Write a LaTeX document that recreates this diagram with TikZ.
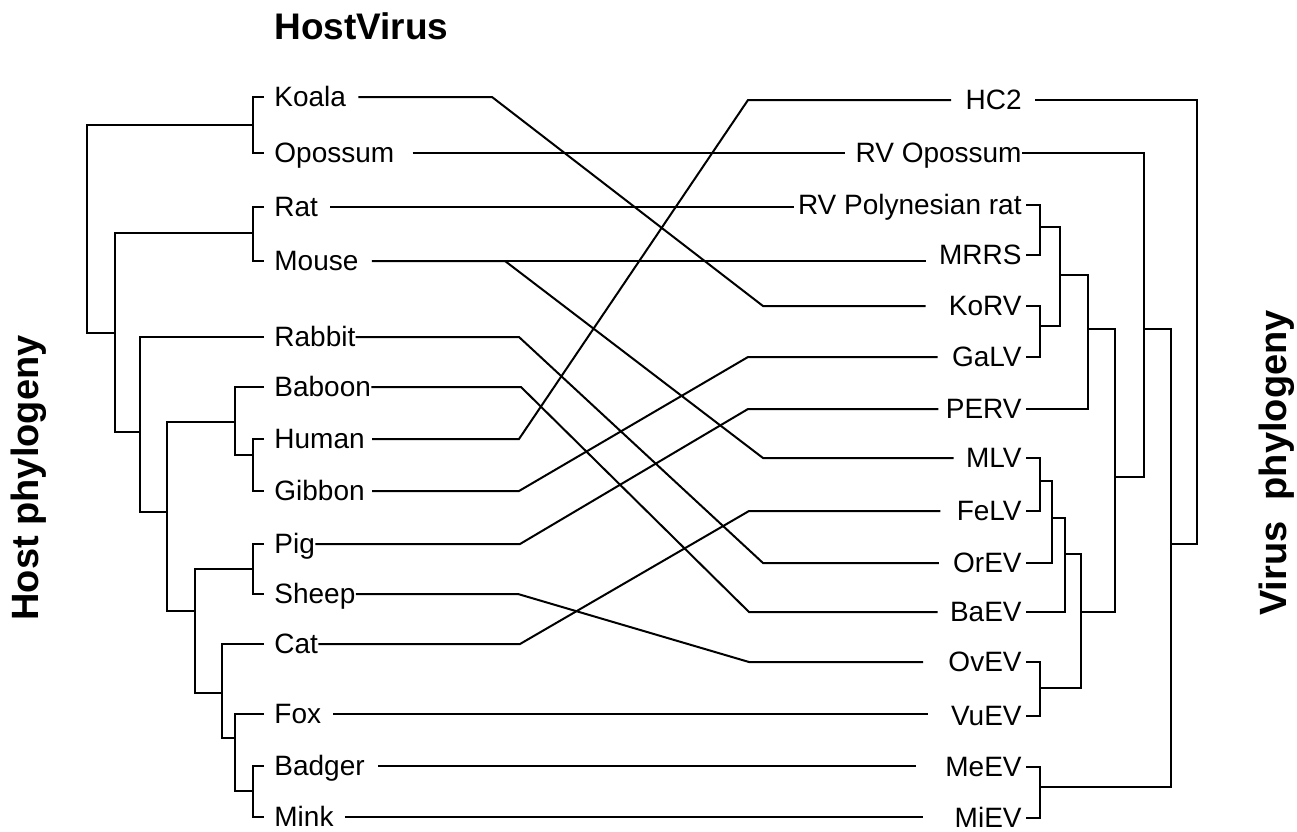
\documentclass[tikz,border=0pt]{standalone}
\usepackage{fontspec}
\setmainfont{Liberation Sans}
\begin{document}
\begin{tikzpicture}[x=0.5pt,y=-0.5pt,
    tree/.style={line width=1pt},
    link/.style={line width=1pt},
    host/.style={anchor=west,inner sep=0pt,text height=10pt,text depth=1pt,font=\fontsize{14}{16}\selectfont},
    virus/.style={host,anchor=east},
    axis title/.style={rotate=90,anchor=base,inner sep=0pt,font=\bfseries\fontsize{19}{22}\selectfont}]
  \useasboundingbox (0,0) rectangle (1297,831);
  \node[anchor=base west,inner sep=0pt,font=\bfseries\fontsize{18.5}{22}\selectfont] (title) at (274,39) {HostVirus};
  \node[axis title] (hostphy) at (39,478) {Host phylogeny};
  \node[axis title] (virphy) at (1286,463) {Virus\ \ phylogeny};
  \foreach \n/\t/\y/\g in {koala/Koala/97/12, opossum/Opossum/153/18, rat/Rat/207/12, mouse/Mouse/261/13,
      rabbit/Rabbit/337/0, baboon/Baboon/387/0, human/Human/439/7, gibbon/Gibbon/491/7, pig/Pig/544/0,
      sheep/Sheep/594/0, cat/Cat/644/0, fox/Fox/714/12, badger/Badger/766/13, mink/Mink/817/11}{
    \node[host] (\n) at (274,\y) {\t};
    \coordinate (\n-l) at ([xshift=-5pt]\n.west);
    \coordinate (\n-r) at ([xshift=\g*0.5pt]\n.east);
  }
  \foreach \n/\t/\y/\g/\r in {hc/HC2/100/14/13, rvo/RV Opossum/153/10/0, rvp/RV Polynesian rat/205/4/4,
      mrrs/MRRS/255/13/4, korv/KoRV/306/23/4, galv/GaLV/357/14/4, perv/PERV/409/7/4, mlv/MLV/458/12/4,
      felv/FeLV/511/16/4, orev/OrEV/563/14/4, baev/BaEV/612/12/4, ovev/OvEV/662/25/4, vuev/VuEV/716/23/4,
      meev/MeEV/767/29/4, miev/MiEV/818/31/4}{
    \node[virus] (\n) at (1022,\y) {\t};
    \coordinate (\n-l) at ([xshift=-\g*0.5pt]\n.west);
    \coordinate (\n-r) at ([xshift=\r*0.5pt]\n.east);
  }
  \foreach \n/\x/\y in {mroot/87/230, m1/253/125, m2/253/233, m4/115/333, m5/140/432, m6/167/512,
      m7/235/422, m8/195/611, m9/253/455, m10/253/569, m11/222/693, m12/235/738, m13/253/791,
      n1/1040/227, n2/1040/326, n3/1060/275, n4/1088/329, n5/1040/481, n6/1052/518, n7/1065/554,
      n8/1040/688, n9/1081/612, n10/1115/477, n11/1144/329, n12/1040/787, n13/1171/544, n14/1197/300}
    \coordinate (\n) at (\x,\y);
  \foreach \a/\p/\b in {koala-l/m1/opossum-l, rat-l/m2/mouse-l, human-l/m9/gibbon-l, pig-l/m10/sheep-l,
      badger-l/m13/mink-l, baboon-l/m7/m9, fox-l/m12/m13, cat-l/m11/m12, m10/m8/m11, m7/m6/m8,
      rabbit-l/m5/m6, m2/m4/m5, m1/mroot/m4,
      rvp-r/n1/mrrs-r, korv-r/n2/galv-r, n1/n3/n2, n3/n4/perv-r, mlv-r/n5/felv-r, n5/n6/orev-r,
      n6/n7/baev-r, ovev-r/n8/vuev-r, n7/n9/n8, n4/n10/n9, rvo-r/n11/n10, meev-r/n12/miev-r,
      n11/n13/n12, hc-r/n14/n13}
    \draw[tree] (\a) -| (\p) |- (\b);
  \foreach \h/\v/\a/\b in {koala/korv/492/763, rabbit/orev/519/763, baboon/baev/521/749, human/hc/519/748,
      gibbon/galv/519/748, pig/perv/520/748, sheep/ovev/518/749, cat/felv/520/749, mouse/mlv/505/763}
    \draw[link] (\h-r) -- (\h-r -| \a,0) -- (\b,0 |- \v-l) -- (\v-l);
  \foreach \h/\v in {opossum/rvo, rat/rvp, mouse/mrrs, fox/vuev, badger/meev, mink/miev}
    \draw[link] (\h-r) -- (\h-r -| \v-l);
\end{tikzpicture}
\end{document}
